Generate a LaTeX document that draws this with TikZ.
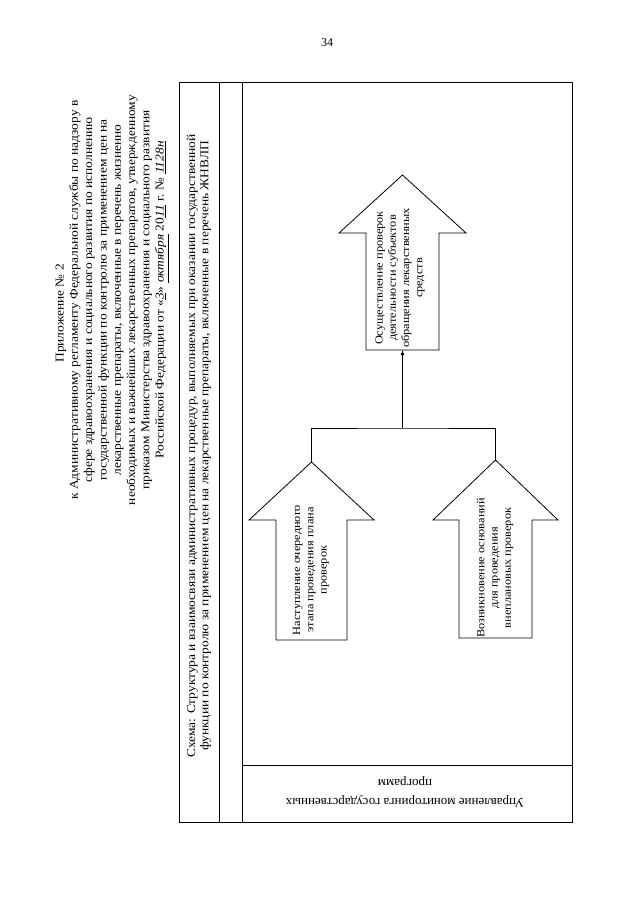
\documentclass[tikz,border=0pt]{standalone}
\usepackage{fontspec}
\setmainfont{Liberation Serif}
\usetikzlibrary{positioning}
\begin{document}
\begin{tikzpicture}[x=1pt, y=-1pt,
    frame/.style={line width=1pt},
    blockarrow/.style={draw, line width=0.8pt, line join=miter},
    hdr/.style={rotate=90, xscale=1.12, align=center, inner sep=0pt, font=\fontsize{12}{14.3}\selectfont},
    arrowtext/.style={rotate=90, xscale=1.12, align=center, inner sep=0pt, font=\fontsize{11}{13.3}\selectfont}]
\useasboundingbox (0,0) rectangle (640,905);
\node[inner sep=0pt, font=\fontsize{12}{14}\selectfont] (pagenum) at (327,43) {34};
% header of the annex
\node[hdr] (annex) at (112,300) {Приложение № 2\hspace*{24pt}\\
    к Административному регламенту Федеральной службы по надзору в\\
    сфере здравоохранения и социального развития по исполнению\\
    государственной функции по контролю за применением цен на\\
    лекарственные препараты, включенные в перечень жизненно\\
    необходимых и важнейших лекарственных препаратов, утвержденному\\
    приказом Министерства здравоохранения и социального развития\\
    Российской Федерации от «\underline{\textit{3}}» \underline{\textit{октября}} 20\underline{\textit{11}} г. № \underline{\textit{1128н}}};
% table frame
\draw[frame] (179,82) rectangle (572,822);
\draw[frame] (219,82) -- (219,822);
\draw[frame] (242,82) -- (242,822);
\draw[frame] (242,765) -- (572,765);
\node[rotate=90, xscale=1.12, align=center, inner sep=0pt, font=\fontsize{12}{13.3}\selectfont] (title) at (199,446)
    {Схема: Структура и взаимосвязи административных процедур, выполняемых при оказании государственной\\
     функции по контролю за применением цен на лекарственные препараты, включенные в перечень ЖНВЛП};
\node[rotate=180, align=center, inner sep=0pt, font=\fontsize{13}{19}\selectfont] (dept) at (405,792)
    {Управление мониторинга государственных\\программ};
% block arrows
\draw[blockarrow] (366,350) -- (366,233) -- (339,233) -- (402.5,175) -- (466,233) -- (439,233) -- (439,350) -- cycle;
\draw[blockarrow] (276,640) -- (276,520) -- (249,520) -- (311.5,462) -- (374,520) -- (347,520) -- (347,640) -- cycle;
\draw[blockarrow] (459,638) -- (459,520) -- (433,520) -- (495.5,460) -- (558,520) -- (532,520) -- (532,638) -- cycle;
\node[arrowtext] (check) at (400,278) {Осуществление проверок\\деятельности субъектов\\обращения лекарственных\\средств};
\node[arrowtext] (plan) at (311,570) {Наступление очередного\\этапа проведения плана\\проверок};
\node[arrowtext] (unplan) at (495,568) {Возникновение оснований\\для проведения\\внеплановых проверок};
% connectors
\coordinate (plantip) at (311.5,462);
\coordinate (unplantip) at (495.5,460);
\coordinate (checktail) at (402.5,350);
\coordinate (join) at (402.5,428);
\draw[line width=0.8pt] (plantip) |- (join) -| (unplantip);
\draw[line width=0.8pt, -latex] (join) -- (checktail);
\end{tikzpicture}
\end{document}
